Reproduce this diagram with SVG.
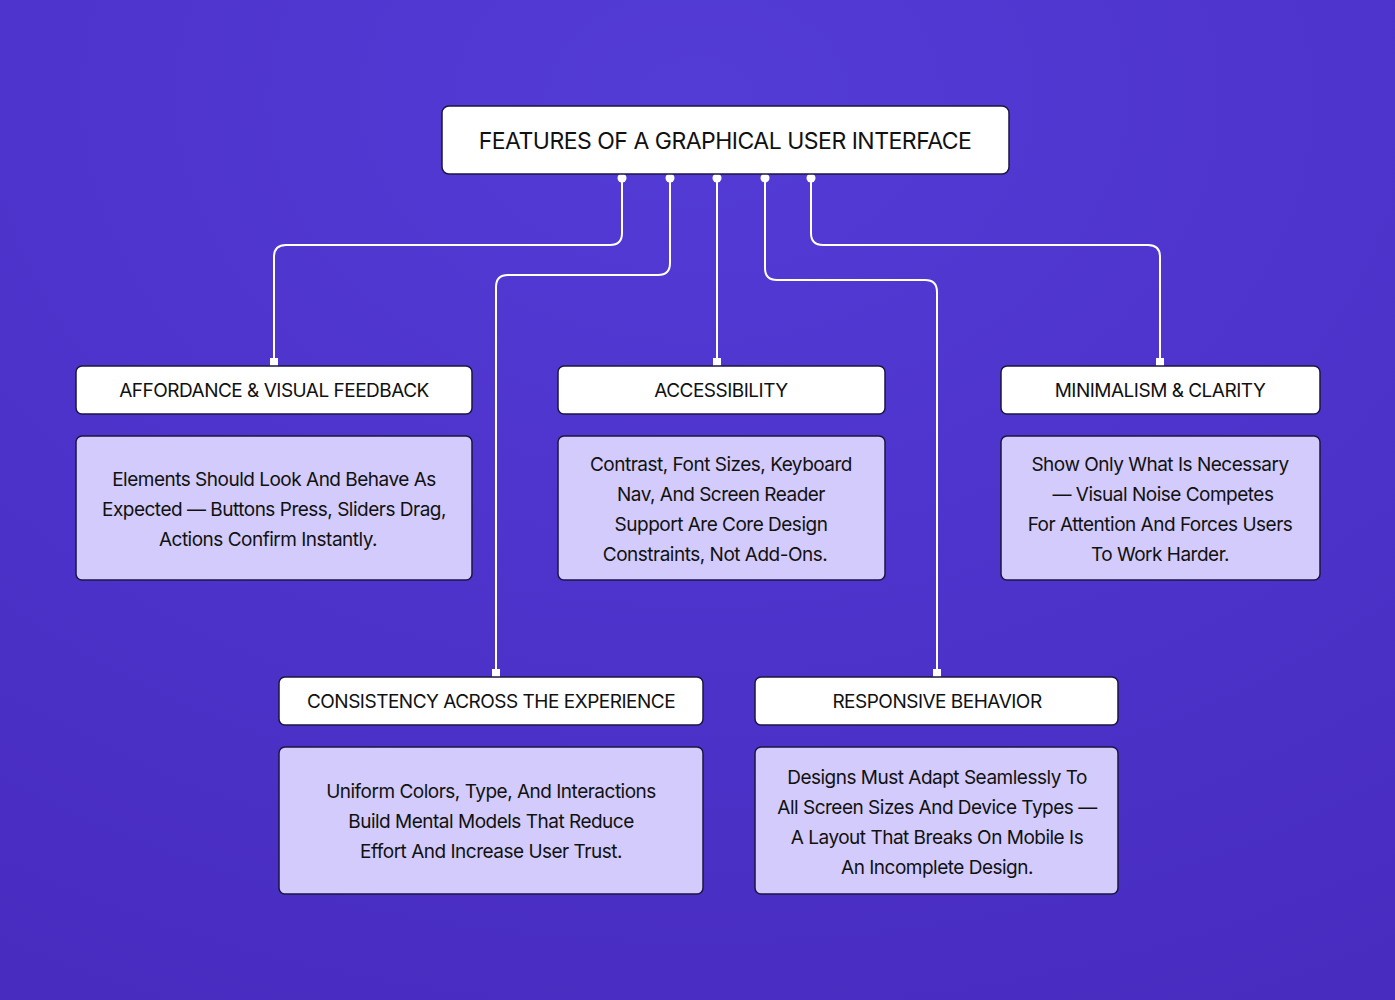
<svg xmlns="http://www.w3.org/2000/svg" width="1395" height="1000" viewBox="0 0 1395 1000">
<defs>
<radialGradient id="bg" cx="0.5" cy="0.1" r="1">
<stop offset="0" stop-color="#533bd6"/>
<stop offset="1" stop-color="#482cc0"/>
</radialGradient>
<marker id="dot" markerWidth="10" markerHeight="10" refX="5" refY="5" markerUnits="userSpaceOnUse"><circle cx="5" cy="5" r="4.5" fill="#fff"/></marker>
<marker id="sq" markerWidth="10" markerHeight="10" refX="4" refY="5" markerUnits="userSpaceOnUse"><rect x="0" y="1" width="8" height="8" fill="#fff"/></marker>
</defs>
<style>
.h{fill:#fff;stroke:#1c1640;stroke-width:1.5}
.d{fill:#d2cbfb;stroke:#1c1640;stroke-width:1.5}
text{font-family:Inter,"Noto Sans",sans-serif;fill:#111;text-anchor:middle;letter-spacing:-0.5px}
.t{font-size:23px}
.hh{font-size:19px}
.b{font-size:19px}
.c{fill:none;stroke:#fff;stroke-width:2;marker-start:url(#dot);marker-end:url(#sq)}
</style>
<rect width="1395" height="1000" fill="url(#bg)"/>
<g id="connectors">
<path class="c" d="M622,178 V233 Q622,245 610,245 H286 Q274,245 274,257 V362"/>
<path class="c" d="M670,178 V263 Q670,275 658,275 H508 Q496,275 496,287 V673"/>
<path class="c" d="M717,178 V362"/>
<path class="c" d="M765,178 V268 Q765,280 777,280 H925 Q937,280 937,292 V673"/>
<path class="c" d="M811,178 V233 Q811,245 823,245 H1148 Q1160,245 1160,257 V362"/>
</g>
<g id="title"><rect class="h" x="442" y="106" width="567" height="68" rx="7"/><text class="t" x="725" y="149">FEATURES OF A GRAPHICAL USER INTERFACE</text></g>
<g id="n1"><rect class="h" x="76" y="366" width="396" height="48" rx="6"/><text class="hh" x="274" y="397">AFFORDANCE &amp; VISUAL FEEDBACK</text>
<rect class="d" x="76" y="436" width="396" height="144" rx="6"/><text class="b" x="274" y="486">Elements Should Look And Behave As</text><text class="b" x="274" y="516">Expected — Buttons Press, Sliders Drag,</text><text class="b" x="268" y="546">Actions Confirm Instantly.</text></g>
<g id="n2"><rect class="h" x="558" y="366" width="327" height="48" rx="6"/><text class="hh" x="721" y="397">ACCESSIBILITY</text>
<rect class="d" x="558" y="436" width="327" height="144" rx="6"/><text class="b" x="721" y="471">Contrast, Font Sizes, Keyboard</text><text class="b" x="721" y="501">Nav, And Screen Reader</text><text class="b" x="721" y="531">Support Are Core Design</text><text class="b" x="715" y="561">Constraints, Not Add-Ons.</text></g>
<g id="n3"><rect class="h" x="1001" y="366" width="319" height="48" rx="6"/><text class="hh" x="1160" y="397">MINIMALISM &amp; CLARITY</text>
<rect class="d" x="1001" y="436" width="319" height="144" rx="6"/><text class="b" x="1160" y="471">Show Only What Is Necessary</text><text class="b" x="1163" y="501">— Visual Noise Competes</text><text class="b" x="1160" y="531">For Attention And Forces Users</text><text class="b" x="1160" y="561">To Work Harder.</text></g>
<g id="n4"><rect class="h" x="279" y="677" width="424" height="48" rx="6"/><text class="hh" x="491" y="708">CONSISTENCY ACROSS THE EXPERIENCE</text>
<rect class="d" x="279" y="747" width="424" height="147" rx="6"/><text class="b" x="491" y="798">Uniform Colors, Type, And Interactions</text><text class="b" x="491" y="828">Build Mental Models That Reduce</text><text class="b" x="491" y="858">Effort And Increase User Trust.</text></g>
<g id="n5"><rect class="h" x="755" y="677" width="363" height="48" rx="6"/><text class="hh" x="937" y="708">RESPONSIVE BEHAVIOR</text>
<rect class="d" x="755" y="747" width="363" height="147" rx="6"/><text class="b" x="937" y="784">Designs Must Adapt Seamlessly To</text><text class="b" x="937" y="814">All Screen Sizes And Device Types —</text><text class="b" x="937" y="844">A Layout That Breaks On Mobile Is</text><text class="b" x="937" y="874">An Incomplete Design.</text></g>
</svg>
